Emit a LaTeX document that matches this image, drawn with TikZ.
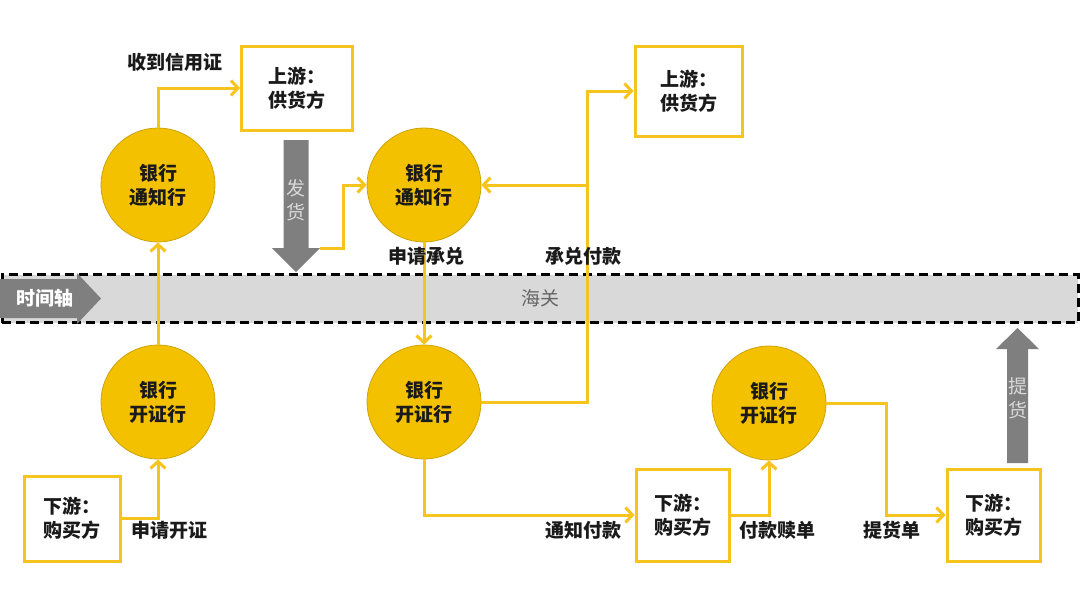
\documentclass[tikz,border=0pt]{standalone}
\usepackage{fontspec}
\setmainfont{Noto Sans CJK SC}
\usetikzlibrary{arrows.meta,positioning}
\definecolor{lcGold}{HTML}{F3C100}
\definecolor{lcGoldLine}{HTML}{F7C41E}
\definecolor{lcGoldEdge}{HTML}{CDA300}
\definecolor{lcGray}{HTML}{7F7F7F}
\definecolor{lcBand}{HTML}{D9D9D9}
\definecolor{lcInk}{HTML}{1A1A1A}
\newcommand\lcfont{\fontsize{19}{24}\selectfont}
\tikzset{
  bank/.style={circle, draw=lcGoldEdge, fill=lcGold, line width=0.8pt,
        minimum size=114pt, inner sep=0pt, align=center,
        font=\lcfont\bfseries, text=lcInk},
  party/.style={draw=lcGoldLine, fill=white, line width=3pt,
        minimum width=94pt, minimum height=90pt, align=left,
        font=\lcfont\bfseries, text=lcInk},
  band/.style={draw=black, fill=lcBand, line width=3pt,
        dash pattern=on 9pt off 5pt, minimum width=1076pt,
        minimum height=48pt, font=\lcfont, text=black!60},
  flow/.style={-{Straight Barb[length=7pt, width=15pt]}, line width=3pt,
        draw=lcGoldLine},
  flab/.style={font=\lcfont\bfseries, text=lcInk, inner sep=1pt},
  blk/.style={fill=lcGray},
  blab/.style={font=\lcfont, text=lcBand, align=center, inner sep=0pt}
}

\begin{document}
\begin{tikzpicture}[x=1pt, y=-1pt]
\useasboundingbox (0,0) rectangle (1080,608);

% customs band and time axis
\node[band] (customs) at (540,298.5) {海关};
\path[blk] (0,279) -- (77,279) -- (77,273) -- (101,298.5) -- (77,324)
  -- (77,318) -- (0,318) -- cycle;
\node[font=\lcfont\bfseries, text=white] (timeaxis) at (45,298) {时间轴};

% banks
\node[bank] (advA) at (158,185) {银行\\通知行};
\node[bank] (issueA) at (158,402) {银行\\开证行};
\node[bank] (advB) at (424,185) {银行\\通知行};
\node[bank] (issueB) at (424,402) {银行\\开证行};
\node[bank] (issueC) at (769,403) {银行\\开证行};

% parties
\node[party, minimum width=111pt, minimum height=84pt] (sellerA) at (297,88) {上游：\\供货方};
\node[party, minimum width=107pt] (sellerB) at (688.5,91) {上游：\\供货方};
\node[party, minimum width=96pt, minimum height=85pt] (buyerA) at (72,518.5) {下游：\\购买方};
\node[party, minimum width=93pt, minimum height=92pt] (buyerB) at (682.5,515) {下游：\\购买方};
\node[party, minimum width=93pt, minimum height=92pt] (buyerC) at (993.5,515) {下游：\\购买方};

% goods arrows
\path[blk] (283.5,140) -- (308.5,140) -- (308.5,248) -- (320,248) -- (296,272)
  -- (272,248) -- (283.5,248) -- cycle;
\node[blab] (ship) at (296,200) {发\\货};
\coordinate (shipR) at (320,248);
\path[blk] (1007,463) -- (1028,463) -- (1028,349) -- (1039,349) -- (1017.5,328)
  -- (996,349) -- (1007,349) -- cycle;
\node[blab] (pickup) at (1017.5,398) {提\\货};

% flows
\coordinate (payT) at (587,185);
\draw[flow] (buyerA.east) -| (issueA.south);
\draw[flow] (issueA) -- (advA);
\draw[flow] (advA.north) |- (sellerA.west);
\draw[flow] (shipR) -- ++(23,0) |- (advB.west);
\draw[flow] (advB) -- (issueB);
\draw[flow] (issueB.east) -| (payT) |- (sellerB.west);
\draw[flow] (payT) -- (advB.east);
\draw[flow] (issueB.south) |- (buyerB.west);
\draw[flow] (buyerB.east) -| (issueC.south);
\draw[flow] (issueC.east) -- ++(60,0) |- (buyerC.west);

% labels
\node[flab] (lcRecv) at (175,62) {收到信用证};
\node[flab] (lcApply) at (169,530) {申请开证};
\node[flab] (accApply) at (426,256) {申请承兑};
\node[flab] (accPay) at (583,256) {承兑付款};
\node[flab] (payNote) at (583,530) {通知付款};
\node[flab] (payRedeem) at (777,530) {付款赎单};
\node[flab] (billLading) at (892,530) {提货单};
\end{tikzpicture}
\end{document}
